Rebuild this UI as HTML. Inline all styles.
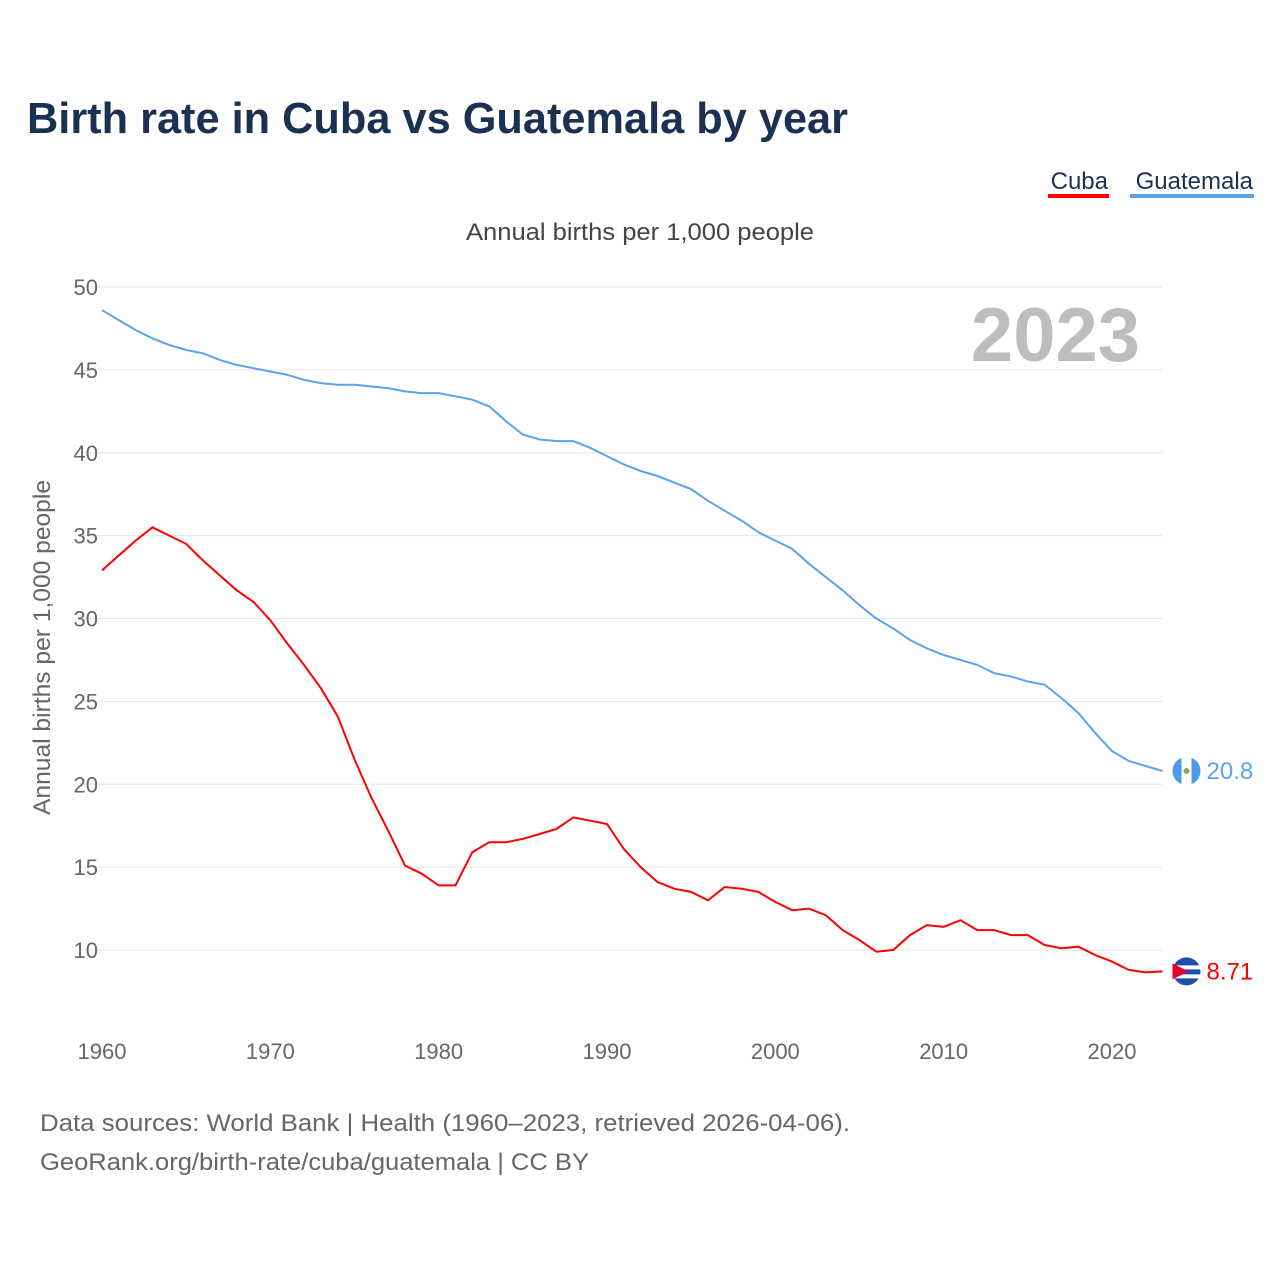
<!DOCTYPE html>
<html><head><meta charset="utf-8"><style>
body{margin:0;background:#fff;font-family:"Liberation Sans",sans-serif;}
</style></head><body>
<svg id="chart" width="1280" height="1280" viewBox="0 0 1280 1280" xmlns="http://www.w3.org/2000/svg">
<rect width="1280" height="1280" fill="#fff"/>
<text x="27" y="133" font-size="44" font-weight="bold" fill="#1b3152" textLength="821" lengthAdjust="spacingAndGlyphs">Birth rate in Cuba vs Guatemala by year</text>
<g><text x="1108" y="189" font-size="24" fill="#1b3152" text-anchor="end">Cuba</text><rect x="1048" y="194" width="61" height="4" fill="#ff0000"/></g>
<g><text x="1253" y="189" font-size="24" fill="#1b3152" text-anchor="end">Guatemala</text><rect x="1130" y="194" width="124" height="4" fill="#5ba3ec"/></g>
<text x="466" y="240" font-size="24" fill="#444" textLength="348" lengthAdjust="spacingAndGlyphs">Annual births per 1,000 people</text>
<text x="1140" y="361" font-size="76" font-weight="bold" fill="#bdbdbd" text-anchor="end">2023</text>
<text transform="translate(50,815) rotate(-90)" font-size="24" fill="#666" textLength="335" lengthAdjust="spacingAndGlyphs">Annual births per 1,000 people</text>
<g id="grid"></g><g id="yt"></g><g id="xt"></g><g id="lines"></g>
<text x="40" y="1131" font-size="24" fill="#666" textLength="810" lengthAdjust="spacingAndGlyphs">Data sources: World Bank | Health (1960–2023, retrieved 2026-04-06).</text>
<text x="40" y="1170" font-size="24" fill="#666" textLength="549" lengthAdjust="spacingAndGlyphs">GeoRank.org/birth-rate/cuba/guatemala | CC BY</text>
</svg>
<script>
const years=[];for(let y=1960;y<=2023;y++)years.push(y);
const guatemala=[48.6,48.0,47.4,46.9,46.5,46.2,46.0,45.6,45.3,45.1,44.9,44.7,44.4,44.2,44.1,44.1,44.0,43.9,43.7,43.6,43.6,43.4,43.2,42.8,41.9,41.1,40.8,40.7,40.7,40.3,39.8,39.3,38.9,38.6,38.2,37.8,37.1,36.5,35.9,35.2,34.7,34.2,33.3,32.5,31.7,30.8,30.0,29.4,28.7,28.2,27.8,27.5,27.2,26.7,26.5,26.2,26.0,25.2,24.3,23.1,22.0,21.4,21.1,20.8];
const cuba=[32.9,33.8,34.7,35.5,35.0,34.5,33.5,32.6,31.7,31.0,29.9,28.5,27.2,25.8,24.1,21.5,19.2,17.2,15.1,14.6,13.9,13.9,15.9,16.5,16.5,16.7,17.0,17.3,18.0,17.8,17.6,16.1,15.0,14.1,13.7,13.5,13.0,13.8,13.7,13.5,12.9,12.4,12.5,12.1,11.2,10.6,9.9,10.0,10.9,11.5,11.4,11.8,11.2,11.2,10.9,10.9,10.3,10.1,10.2,9.7,9.3,8.8,8.65,8.71];
const yTicks=[10,15,20,25,30,35,40,45,50];
const xTicks=[1960,1970,1980,1990,2000,2010,2020];
const X=y=>102+(y-1960)*1010/60, Y=v=>950-(v-10)*663/40;
const NS="http://www.w3.org/2000/svg";
function mk(t,a,p){const e=document.createElementNS(NS,t);for(const k in a)e.setAttribute(k,a[k]);p.appendChild(e);return e;}
const g=document.getElementById('grid'),yt=document.getElementById('yt'),xt=document.getElementById('xt'),ln=document.getElementById('lines');
yTicks.forEach(v=>{const l=mk('line',{x1:80,x2:1162,y1:Y(v),y2:Y(v),stroke:'#e6e6e6','stroke-width':1},g);


const t=mk('text',{x:98,y:Y(v)+8,'font-size':22,fill:'#666','text-anchor':'end'},yt);t.textContent=v;

});
xTicks.forEach(v=>{const t=mk('text',{x:X(v),y:1059,'font-size':22,fill:'#666','text-anchor':'middle'},xt);t.textContent=v;

});
function series(d,c,n,cuba){const p=mk('path',{d:d.map((v,i)=>(i?'L':'M')+X(years[i]).toFixed(1)+','+Y(v).toFixed(1)).join(''),fill:'none',stroke:c,'stroke-width':2},ln);


const last=d[d.length-1],cx=X(2023)+24,cy=Y(last);
if(cuba){
mk('circle',{cx:cx,cy:cy,r:14,fill:'#1d4fa8'},ln);
mk('rect',{x:cx-14,y:cy-6,width:28,height:4,fill:'#fff'},ln);
mk('rect',{x:cx-14,y:cy+3,width:28,height:4,fill:'#fff'},ln);
mk('path',{d:`M${cx-14},${cy-8}L${cx+2},${cy}L${cx-14},${cy+8}Z`,fill:'#e4002b'},ln);
}else{
mk('circle',{cx:cx,cy:cy,r:14,fill:'#4b9be8'},ln);
mk('rect',{x:cx-5,y:cy-14,width:10,height:28,fill:'#fff'},ln);
mk('circle',{cx:cx,cy:cy,r:3,fill:'#8aa86a'},ln);
}
const t=mk('text',{x:cx+20,y:cy+8,'font-size':24,fill:c},ln);t.textContent=last;

}
series(guatemala,'#5ba3ec','guatemala',false);
series(cuba,'#ff0000','cuba',true);
</script>
</body></html>
